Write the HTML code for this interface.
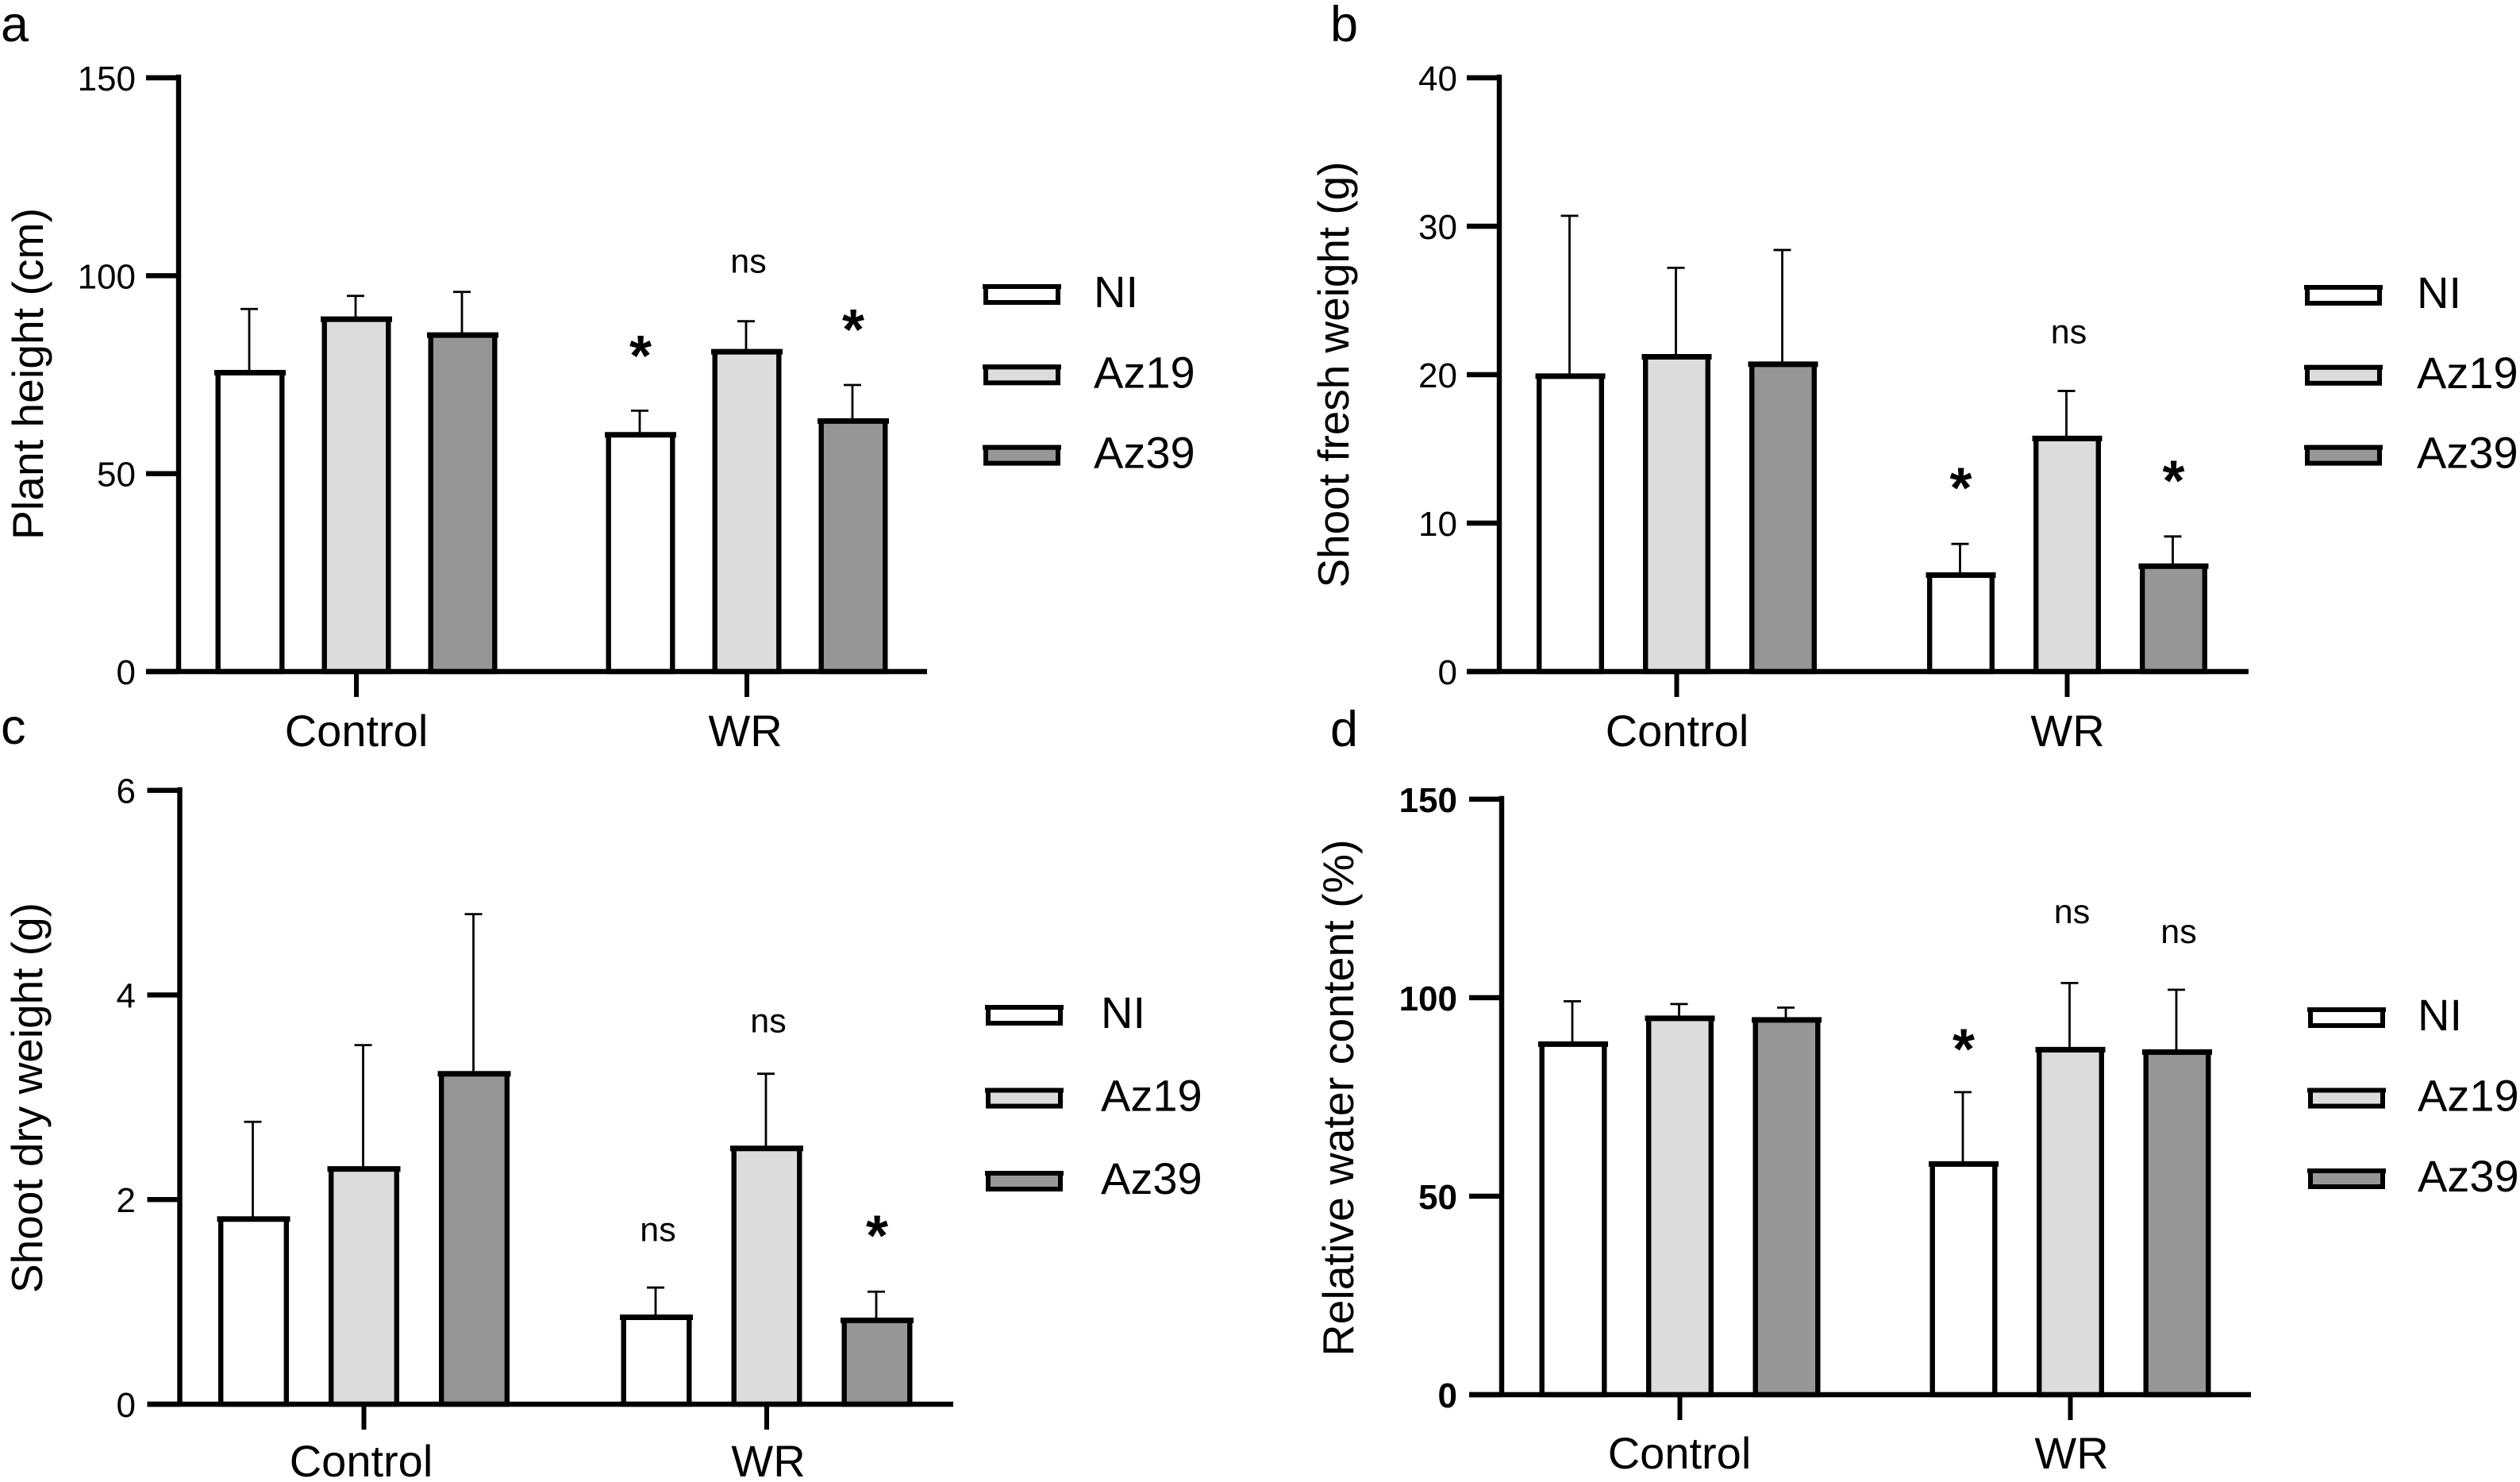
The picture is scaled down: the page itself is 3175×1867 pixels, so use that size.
<!DOCTYPE html>
<html lang="en">
<head>
<meta charset="utf-8">
<title>Plant growth bar charts</title>
<style>
html,body{margin:0;padding:0;background:#fff;}
svg{display:block;}
text{font-family:"Liberation Sans",Arial,sans-serif;fill:#000;}
</style>
</head>
<body>
<svg id="figure" xmlns="http://www.w3.org/2000/svg" width="3175" height="1867" viewBox="0 0 3175 1867"></svg>
<script>
const categories = ['Control', 'WR'];
const seriesNames = ['NI', 'Az19', 'Az39'];
const seriesFills = ['#ffffff', '#dcdcdc', '#969696'];

const aTicks = [0, 50, 100, 150];
const aControl = [75.5, 89, 85];
const aControlErr = [16.1, 5.9, 10.9];
const aWR = [59.8, 80.8, 63.3];
const aWRErr = [6.1, 7.7, 9.1];
const aNotes = ['*', 'ns', '*'];
const aNoteLevels = [81.4, 103, 88];

const bTicks = [0, 10, 20, 30, 40];
const bControl = [19.9, 21.2, 20.7];
const bControlErr = [10.8, 6, 7.7];
const bWR = [6.5, 15.7, 7.1];
const bWRErr = [2.1, 3.2, 2];
const bNotes = ['*', 'ns', '*'];
const bNoteLevels = [12.8, 22.7, 13.3];

const cTicks = [0, 2, 4, 6];
const cControl = [1.81, 2.3, 3.23];
const cControlErr = [0.95, 1.21, 1.56];
const cWR = [0.85, 2.5, 0.82];
const cWRErr = [0.29, 0.73, 0.28];
const cNotes = ['ns', 'ns', '*'];
const cNoteLevels = [1.68, 3.72, 1.71];

const dTicks = [0, 50, 100, 150];
const dControl = [88.3, 94.8, 94.4];
const dControlErr = [10.8, 3.6, 3.1];
const dWR = [58.1, 86.9, 86.3];
const dWRErr = [18.1, 16.8, 15.7];
const dNotes = ['*', 'ns', 'ns'];
const dNoteLevels = [88.7, 121, 116];

const panels = [
  {id:'a', letterX:1, letterY:52, title:'Plant height (cm)', titleX:54, titleY:471, titleLen:418,
   axisX:225, axisEnd:1168, y0:846, yTop:98, groupX:[449,941], step:134, barW:87,
   labelX:[449,939], labelY:940, tickRight:171, boldTicks:false,
   domain:150, ticks:aTicks, control:aControl, controlErr:aControlErr, wr:aWR, wrErr:aWRErr, notes:aNotes, levels:aNoteLevels,
   swatchX:1239, swatchY:358, swatchStep:101.3, legendX:1378},
  {id:'b', letterX:1676, letterY:52, title:'Shoot fresh weight (g)', titleX:1699, titleY:472, titleLen:537,
   axisX:1889, axisEnd:2833, y0:846, yTop:98, groupX:[2112.5,2604.5], step:134, barW:85,
   labelX:[2113,2605], labelY:940, tickRight:1836, boldTicks:false,
   domain:40, ticks:bTicks, control:bControl, controlErr:bControlErr, wr:bWR, wrErr:bWRErr, notes:bNotes, levels:bNoteLevels,
   swatchX:2904, swatchY:359, swatchStep:100.8, legendX:3045},
  {id:'c', letterX:1, letterY:937, title:'Shoot dry weight (g)', titleX:53, titleY:1383, titleLen:492,
   axisX:226.5, axisEnd:1201, y0:1769, yTop:995.7, groupX:[458.5,966], step:139, barW:89,
   labelX:[455,968], labelY:1860, tickRight:171, boldTicks:false,
   domain:6, ticks:cTicks, control:cControl, controlErr:cControlErr, wr:cWR, wrErr:cWRErr, notes:cNotes, levels:cNoteLevels,
   swatchX:1242, swatchY:1266, swatchStep:104.5, legendX:1387},
  {id:'d', letterX:1676, letterY:940, title:'Relative water content (%)', titleX:1705, titleY:1383, titleLen:651,
   axisX:1892, axisEnd:2836, y0:1757, yTop:1006.8, groupX:[2116.5,2608.5], step:134.5, barW:85,
   labelX:[2116,2610], labelY:1850, tickRight:1836, boldTicks:true,
   domain:150, ticks:dTicks, control:dControl, controlErr:dControlErr, wr:dWR, wrErr:dWRErr, notes:dNotes, levels:dNoteLevels,
   swatchX:2908, swatchY:1269, swatchStep:101.5, legendX:3046}
];

const NS = 'http://www.w3.org/2000/svg';
const root = document.getElementById('figure');

function mk(parent, tag, attrs, txt) {
  const n = document.createElementNS(NS, tag);
  for (const k in attrs) n.setAttribute(k, attrs[k]);
  if (txt !== undefined) n.textContent = txt;
  parent.appendChild(n);
  return n;
}

function drawPanel(p) {
  const yScale = v => p.y0 - (v / p.domain) * (p.y0 - p.yTop);
  const xScale = (g, s) => p.groupX[g] + (s - 1) * p.step;

  const g = mk(root, 'g', {});
  
  

  const letter = mk(g, 'text', {x:p.letterX, y:p.letterY, 'font-size':63}, p.id);
  
  

  const title = mk(g, 'text', {
    x:0, y:0, 'font-size':55, 'text-anchor':'middle',
    transform:'translate(' + p.titleX + ',' + p.titleY + ') rotate(-90)',
    textLength:p.titleLen, lengthAdjust:'spacingAndGlyphs'
  }, p.title);
  
  

  // bars + error bars
  [[p.control, p.controlErr], [p.wr, p.wrErr]].forEach(function (pair, gi) {
    pair[0].forEach(function (val, si) {
      const cx = xScale(gi, si);
      const top = yScale(val);
      const errTop = yScale(val + pair[1][si]);
      const sw = 6.4;
      const hw = p.barW / 2;

      const err = mk(g, 'line', {x1:cx - 1, x2:cx - 1, y1:top, y2:errTop, stroke:'#000', 'stroke-width':2.8});
      
      

      const cap = mk(g, 'line', {x1:cx - 12, x2:cx + 10, y1:errTop, y2:errTop, stroke:'#000', 'stroke-width':2.8});
      
      

      const bar = mk(g, 'rect', {
        x:cx - hw + sw / 2, y:top, width:p.barW - sw, height:p.y0 - top,
        fill:seriesFills[si], stroke:'#000', 'stroke-width':sw
      });
      
      

      const barTop = mk(g, 'line', {x1:cx - hw - 1.5, x2:cx + hw + 1.5, y1:top, y2:top, stroke:'#000', 'stroke-width':7});
      
      
    });
  });

  // significance notes (second group only)
  p.notes.forEach(function (note, si) {
    const isStar = note === '*';
    const yc = yScale(p.levels[si]);
    const t = mk(g, 'text', {
      x:xScale(1, si) + (isStar ? 0 : 2), y:yc + (isStar ? 33 : 11),
      'font-size':isStar ? 72 : 43, 'text-anchor':'middle',
      'font-weight':isStar ? 'bold' : 'normal'
    }, note);
    
    
  });

  // axes
  const yAxis = mk(g, 'line', {x1:p.axisX, x2:p.axisX, y1:p.yTop - 4, y2:p.y0 + 3, stroke:'#000', 'stroke-width':6.4});
  
  

  const xAxis = mk(g, 'line', {x1:p.axisX - 41, x2:p.axisEnd, y1:p.y0, y2:p.y0, stroke:'#000', 'stroke-width':6.4});
  
  

  p.ticks.forEach(function (tv) {
    const y = yScale(tv);
    const tk = mk(g, 'line', {x1:p.axisX - 41, x2:p.axisX, y1:y, y2:y, stroke:'#000', 'stroke-width':6.4});
    
    

    const lb = mk(g, 'text', {
      x:p.tickRight, y:y + 16, 'font-size':44, 'text-anchor':'end',
      'font-weight':p.boldTicks ? 'bold' : 'normal'
    }, String(tv));
    
    
  });

  categories.forEach(function (cat, gi) {
    const tk = mk(g, 'line', {x1:p.groupX[gi], x2:p.groupX[gi], y1:p.y0, y2:p.y0 + 32, stroke:'#000', 'stroke-width':6});
    
    

    const lb = mk(g, 'text', {x:p.labelX[gi], y:p.labelY, 'font-size':56, 'text-anchor':'middle'}, cat);
    
    
  });

  // legend
  seriesNames.forEach(function (name, si) {
    const top = p.swatchY + si * p.swatchStep;
    const entry = mk(g, 'g', {});
    
    

    const box = mk(entry, 'rect', {x:p.swatchX + 3, y:top + 3, width:91, height:20, fill:seriesFills[si], stroke:'#000', 'stroke-width':6});
    
    

    const boxTop = mk(entry, 'line', {x1:p.swatchX - 1, x2:p.swatchX + 98, y1:top + 3, y2:top + 3, stroke:'#000', 'stroke-width':6});
    
    

    const lb = mk(entry, 'text', {x:p.legendX, y:top + 29, 'font-size':56}, name);
    
    
  });
}

panels.forEach(drawPanel);
</script>
</body>
</html>
